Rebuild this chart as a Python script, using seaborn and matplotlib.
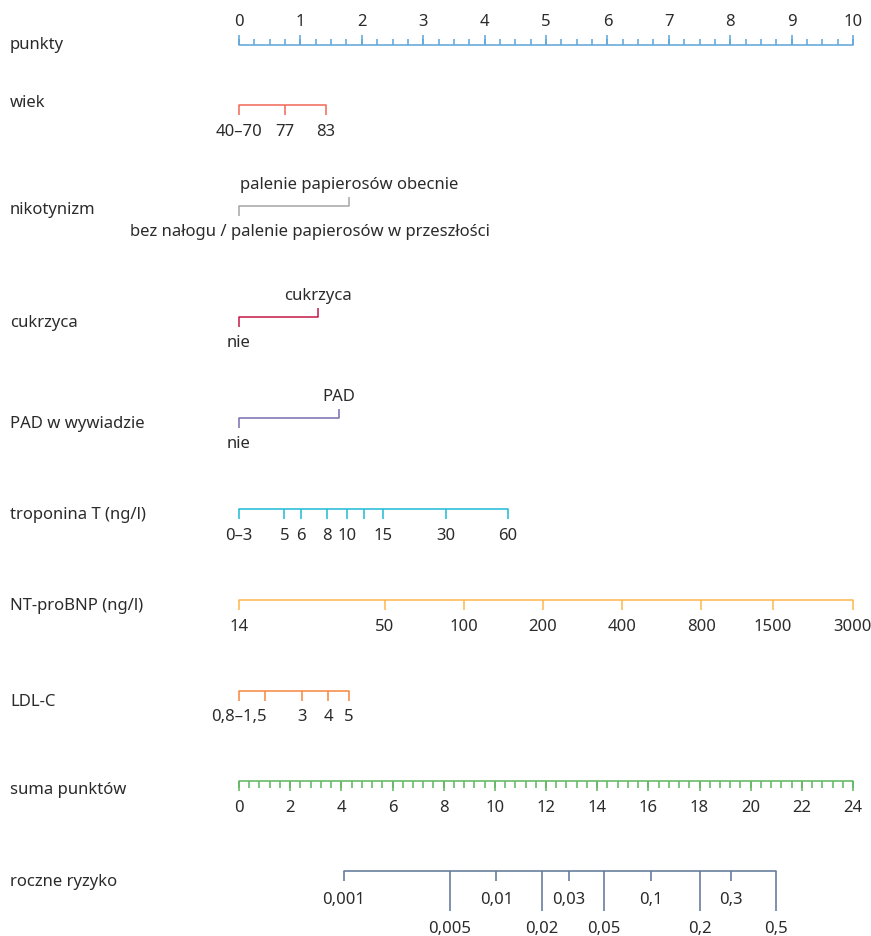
import seaborn as sns
import matplotlib.pyplot as plt
import numpy as np

# --- data (positions in "punkty" units, 0-10) ---
points_major = np.arange(0, 11, 1)
points_minor = np.arange(0, 10.01, 0.25)

age_labels = ["40–70", "77", "83"]
age_pts = [0, 0.75, 1.41]

smoke_labels = ["bez nałogu / palenie papierosów w przeszłości", "palenie papierosów obecnie"]
smoke_pts = [0, 1.79]

diab_labels = ["nie", "cukrzyca"]
diab_pts = [0, 1.29]

pad_labels = ["nie", "PAD"]
pad_pts = [0, 1.63]

trop_labels = ["0–3", "5", "6", "8", "10", "", "15", "30", "60"]
trop_pts = [0, 0.74, 1.01, 1.43, 1.76, 2.03, 2.35, 3.37, 4.38]

bnp_labels = ["14", "50", "100", "200", "400", "800", "1500", "3000"]
bnp_pts = [0, 2.37, 3.66, 4.95, 6.24, 7.53, 8.69, 10]

ldl_labels = ["0,8–1,5", "", "3", "4", "5"]
ldl_pts = [0, 0.43, 1.02, 1.45, 1.79]

# total points scale 0-24
total_major = np.arange(0, 25, 2)
total_minor = np.arange(0, 24.01, 0.4)

risk_labels = ["0,001", "0,005", "0,01", "0,02", "0,03", "0,05", "0,1", "0,2", "0,3", "0,5"]
risk_total = [4.09, 8.25, 10.06, 11.84, 12.89, 14.25, 16.10, 18.02, 19.24, 20.98]

row_names = ["punkty", "wiek", "nikotynizm", "cukrzyca", "PAD w wywiadzie",
             "troponina T (ng/l)", "NT-proBNP (ng/l)", "LDL-C", "suma punktów", "roczne ryzyko"]

# --- styling ---
sns.set_theme(style="white")
plt.rcParams['font.family'] = ['Noto Sans', 'DejaVu Sans']
TXT = "#2b2b2b"
FS = 12
LW = 1.15

c_points = "#62a8da"
c_age = "#f26c5d"
c_smoke = "#a7a9ac"
c_diab = "#c6224f"
c_pad = "#7e72b2"
c_trop = "#25bcd6"
c_bnp = "#fdba52"
c_ldl = "#f58b45"
c_total = "#62b862"
c_risk = "#60799a"

fig = plt.figure(figsize=(8.71, 9.37), dpi=100)
ax = fig.add_axes([0, 0, 1, 1])
PX = 61.4  # pixels per point
ax.set_xlim(-239 / PX, (871 - 239) / PX)
ax.set_ylim(937, 0)
ax.axis("off")

def tp(v):
    # total points -> point scale
    return np.asarray(v) * 10 / 24

def hline(x1, y, color):
    sns.lineplot(x=[0, x1], y=[y, y], color=color, lw=LW, ax=ax, estimator=None)

def lab(x, y, s, **kw):
    ax.text(x, y, s, fontsize=FS, color=TXT, ha=kw.pop("ha", "center"),
            va=kw.pop("va", "center"), **kw)

# row labels
label_y = [45, 103, 210, 323, 424, 515, 606, 702, 790, 882]
for name, y in zip(row_names, label_y):
    ax.text(-229 / PX, y, name, fontsize=FS, color=TXT, ha="left", va="center")

# punkty
y = 46
hline(10, y, c_points)
ax.vlines(points_minor, y - 6, y, color=c_points, lw=LW)
ax.vlines(points_major, y - 10, y, color=c_points, lw=LW)
for v in points_major:
    lab(v, 22, str(v))

# scales with ticks hanging down
def down_scale(pts, labels, y, color, label_dy=26):
    hline(max(pts), y, color)
    ax.vlines(pts, y, y + 10, color=color, lw=LW)
    for p, s in zip(pts, labels):
        if s:
            lab(p, y + label_dy, s)

down_scale(age_pts, age_labels, 106, c_age)
down_scale(trop_pts, trop_labels, 510, c_trop)
down_scale(bnp_pts, bnp_labels, 601, c_bnp)
down_scale(ldl_pts, ldl_labels, 692, c_ldl, label_dy=25)

# binary variables
def binary(pts, labels, y, color, low_x=None):
    hline(pts[1], y, color)
    ax.vlines(pts[0], y, y + 10, color=color, lw=LW)
    ax.vlines(pts[1], y - 9, y, color=color, lw=LW)
    lab(pts[1], y - 22, labels[1])
    if low_x is None:
        lab(pts[0], y + 25, labels[0])
    else:
        lab(low_x, y + 25, labels[0], ha="left")

binary(smoke_pts, smoke_labels, 207, c_smoke, low_x=-109 / PX)
binary(diab_pts, diab_labels, 318, c_diab)
binary(pad_pts, pad_labels, 419, c_pad)

# suma punktów
y = 782
hline(tp(24), y, c_total)
ax.vlines(tp(total_minor), y, y + 7, color=c_total, lw=LW)
ax.vlines(tp(total_major), y, y + 10, color=c_total, lw=LW)
for v in total_major:
    lab(tp(v), y + 26, str(v))

# roczne ryzyko
y = 872
rx = tp(risk_total)
sns.lineplot(x=[rx[0], rx[-1]], y=[y, y], color=c_risk, lw=LW, ax=ax, estimator=None)
for i, (x, s) in enumerate(zip(rx, risk_labels)):
    if i % 2 == 0:
        ax.vlines(x, y, y + 10, color=c_risk, lw=LW)
        lab(x, y + 28, s)
    else:
        ax.vlines(x, y, y + 40, color=c_risk, lw=LW)
        lab(x, y + 57, s)

fig.savefig("out.png", dpi=100)
